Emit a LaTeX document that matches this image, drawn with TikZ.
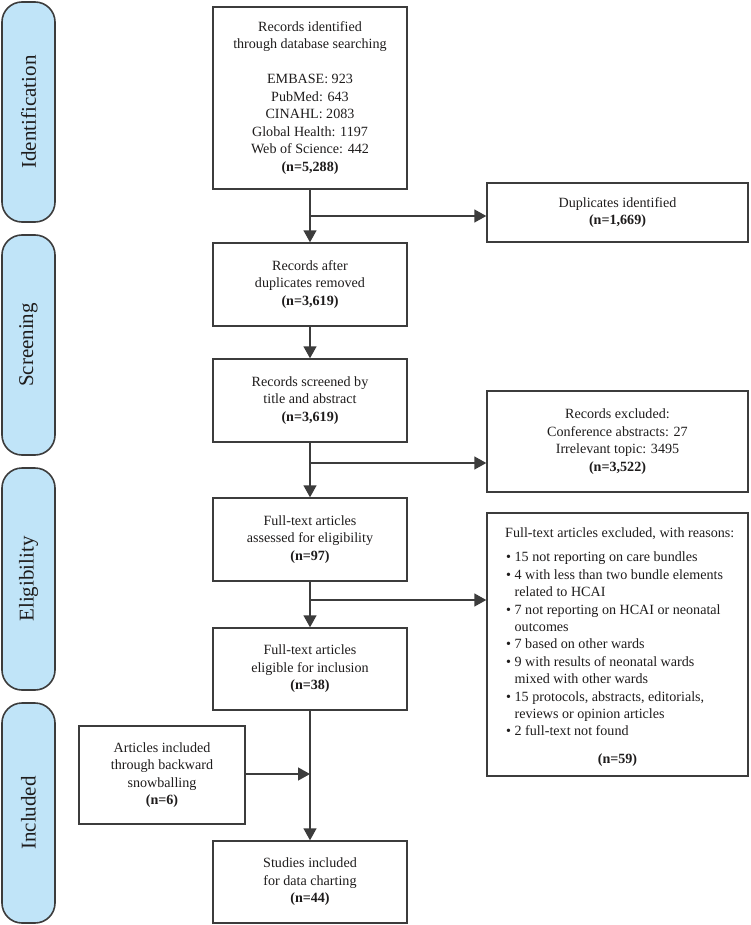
\documentclass[tikz,border=0pt]{standalone}
\usepackage{fontspec}
\setmainfont{Liberation Serif}
\usetikzlibrary{arrows.meta}
\definecolor{lineclr}{RGB}{60,60,60}
\definecolor{txtclr}{RGB}{30,28,28}
\definecolor{barfill}{RGB}{192,228,248}
\newcommand{\nval}[1]{\textbf{#1}}
\tikzset{
  box/.style={draw=lineclr, line width=1.4pt, rectangle, align=center, inner sep=0pt,
    text=txtclr, font=\fontsize{14.1}{17.5}\selectfont},
  bar/.style={draw=lineclr, line width=1.6pt, fill=barfill, rounded corners=20pt},
  barlabel/.style={rotate=90, text=txtclr, font=\fontsize{21}{24}\selectfont},
  conn/.style={draw=lineclr, line width=1.4pt},
  arr/.style={conn, -{Triangle[length=12pt,width=13pt]}},
  plain/.style={text=txtclr, inner sep=0pt, font=\fontsize{14.1}{17.4}\selectfont},
}
\begin{document}
\begin{tikzpicture}[x=1pt,y=-1pt]
\useasboundingbox (0,0) rectangle (750,925);
% phase bars
\draw[bar] (2,2) rectangle (55,222);
\node[barlabel] (lid) at (28.5,112) {Identification};
\draw[bar] (2,235) rectangle (55,455);
\node[barlabel] (lsc) at (28.5,345) {Screening};
\draw[bar] (2,468) rectangle (55,690);
\node[barlabel] (lel) at (28.5,579) {Eligibility};
\draw[bar] (2,703) rectangle (55,923);
\node[barlabel] (lin) at (28.5,813) {Included};
% main boxes
\node[box, minimum width=194pt, minimum height=182pt] (id) at (310,98)
  {Records identified\\through database searching\\[17.5pt]EMBASE: 923\\PubMed: 643\\CINAHL: 2083\\Global Health: 1197\\Web of Science: 442\\\nval{(n=5,288)}};
\node[box, minimum width=261pt, minimum height=59pt] (dup) at (617.5,212.5)
  {Duplicates identified\\\nval{(n=1,669)}};
\node[box, minimum width=194pt, minimum height=83pt] (after) at (310,284.5)
  {Records after\\duplicates removed\\\nval{(n=3,619)}};
\node[box, minimum width=194pt, minimum height=83pt] (scr) at (310,400.5)
  {Records screened by\\title and abstract\\\nval{(n=3,619)}};
\node[box, minimum width=261pt, minimum height=101pt] (rex) at (617.5,441.5)
  {Records excluded:\\Conference abstracts: 27\\Irrelevant topic: 3495\\\nval{(n=3,522)}};
\node[box, minimum width=194pt, minimum height=83pt] (ass) at (310,539.5)
  {Full-text articles\\assessed for eligibility\\\nval{(n=97)}};
\node[box, minimum width=261pt, minimum height=263pt] (fex) at (617.5,644.5) {};
\node[plain, anchor=west] (fexh) at (505,534) {Full-text articles excluded, with reasons:};
\node[plain, anchor=north west, align=left] (fexl) at (506,552)
  {\textbullet\ 15 not reporting on care bundles\\
   \textbullet\ 4 with less than two bundle elements\\
   \hphantom{\textbullet\ }related to HCAI\\
   \textbullet\ 7 not reporting on HCAI or neonatal\\
   \hphantom{\textbullet\ }outcomes\\
   \textbullet\ 7 based on other wards\\
   \textbullet\ 9 with results of neonatal wards\\
   \hphantom{\textbullet\ }mixed with other wards\\
   \textbullet\ 15 protocols, abstracts, editorials,\\
   \hphantom{\textbullet\ }reviews or opinion articles\\
   \textbullet\ 2 full-text not found};
\node[plain] (fexn) at (617.5,760) {\nval{(n=59)}};
\node[box, minimum width=194pt, minimum height=82pt] (eli) at (310,669)
  {Full-text articles\\eligible for inclusion\\\nval{(n=38)}};
\node[box, minimum width=166pt, minimum height=98pt] (snow) at (162,775)
  {Articles included\\through backward\\snowballing\\\nval{(n=6)}};
\node[box, minimum width=194pt, minimum height=82pt] (stu) at (310,882)
  {Studies included\\for data charting\\\nval{(n=44)}};
% junction coordinates
\coordinate (j1) at (310,216);
\coordinate (j2) at (310,463);
\coordinate (j3) at (310,600);
\coordinate (j4) at (310,774);
% connectors
\draw[arr] (id.south) -- (after.north);
\draw[arr] (j1) -- (dup.west |- j1);
\draw[arr] (after.south) -- (scr.north);
\draw[arr] (scr.south) -- (ass.north);
\draw[arr] (j2) -- (rex.west |- j2);
\draw[arr] (ass.south) -- (eli.north);
\draw[arr] (j3) -- (fex.west |- j3);
\draw[arr] (eli.south) -- (stu.north);
\draw[arr] (snow.east |- j4) -- (j4);
\end{tikzpicture}
\end{document}
